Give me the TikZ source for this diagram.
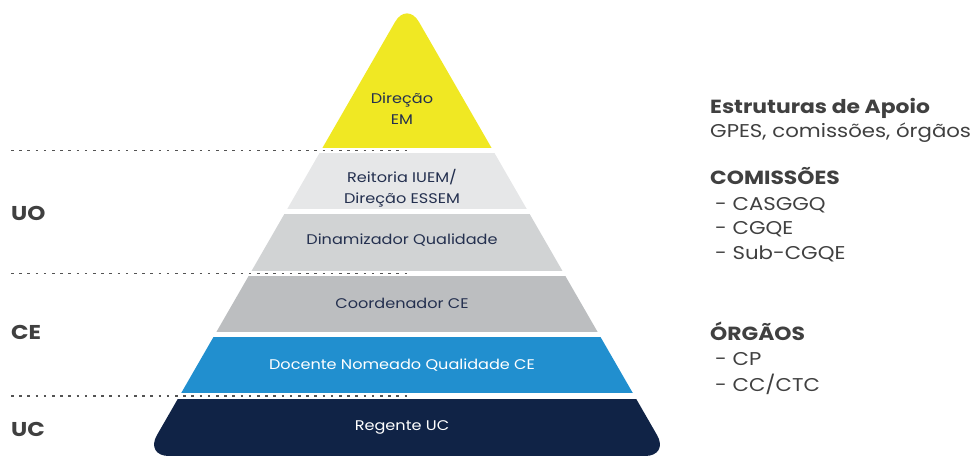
\documentclass[tikz,border=0pt]{standalone}
\usepackage{fontspec}
\setmainfont{Poppins}[FakeStretch=1.15]
\definecolor{cyel}{HTML}{F0E823}
\definecolor{cg1}{HTML}{E6E7E8}
\definecolor{cg2}{HTML}{D1D3D4}
\definecolor{cg3}{HTML}{BCBEC0}
\definecolor{cblue}{HTML}{218FCF}
\definecolor{cnavy}{HTML}{102346}
\definecolor{ctxt}{HTML}{24304F}
\definecolor{clab}{HTML}{404040}
\tikzset{
  band/.style={font=\fontsize{14}{21}\selectfont, text=ctxt, align=center, inner sep=0pt},
  bandw/.style={band, text=white},
  lvl/.style={font=\fontsize{20}{20}\selectfont\bfseries, text=clab, anchor=west, inner sep=0pt},
  side/.style={font=\fontsize{18.5}{18.5}\selectfont, text=clab, anchor=base west, inner sep=0pt},
  sideb/.style={side, font=\fontsize{19}{19}\selectfont\bfseries},
  sep/.style={draw=clab!90, line width=1.2pt, dash pattern=on 2.6pt off 5.6pt},
}
\begin{document}
\begin{tikzpicture}[x=1pt,y=-1pt]
\useasboundingbox (0,0) rectangle (974,455);
\begin{scope}
  \clip[rounded corners=24pt] (407,1.2) -- (669.1,456) -- (144.9,456) -- cycle;
  \fill[cyel]  (0,0) rectangle (974,147.6);
  \fill[cg1]   (0,153) rectangle (974,209);
  \fill[cg2]   (0,214.3) rectangle (974,270.7);
  \fill[cg3]   (0,276) rectangle (974,331.8);
  \fill[cblue] (0,337.3) rectangle (974,393.3);
  \fill[cnavy] (0,398.7) rectangle (974,460);
\end{scope}
\coordinate (s1a) at (11,150.3); \coordinate (s1b) at (412,150.3);
\coordinate (s2a) at (11,273.3); \coordinate (s2b) at (412,273.3);
\coordinate (s3a) at (11,396);   \coordinate (s3b) at (412,396);
\draw[sep] (s1a) -- (s1b);
\draw[sep] (s2a) -- (s2b);
\draw[sep] (s3a) -- (s3b);
\node[band]  (t1) at (402,108.5) {Direção\\EM};
\node[band]  (t2) at (402,188) {Reitoria IUEM/\\Direção ESSEM};
\node[band]  (t3) at (402,240) {Dinamizador Qualidade};
\node[band]  (t4) at (402,303) {Coordenador CE};
\node[bandw] (t5) at (402,365) {Docente Nomeado Qualidade CE};
\node[bandw] (t6) at (402,427) {Regente UC};
\node[lvl] (uo) at (11,213) {UO};
\node[lvl] (ce) at (11,332) {CE};
\node[lvl] (uc) at (11,429.5) {UC};
\node[sideb] (r1) at (710,113) {Estruturas de Apoio};
\node[side]  (r2) at (710,137.5) {GPES, comissões, órgãos};
\node[sideb] (r3) at (710,184.5) {COMISSÕES};
\node[side]  (r4) at (715,210) {- CASGGQ};
\node[side]  (r5) at (715,234.5) {- CGQE};
\node[side]  (r6) at (715,259) {- Sub-CGQE};
\node[sideb] (r7) at (710,340.5) {ÓRGÃOS};
\node[side]  (r8) at (715,365.5) {- CP};
\node[side]  (r9) at (715,391.5) {- CC/CTC};
\end{tikzpicture}
\end{document}
